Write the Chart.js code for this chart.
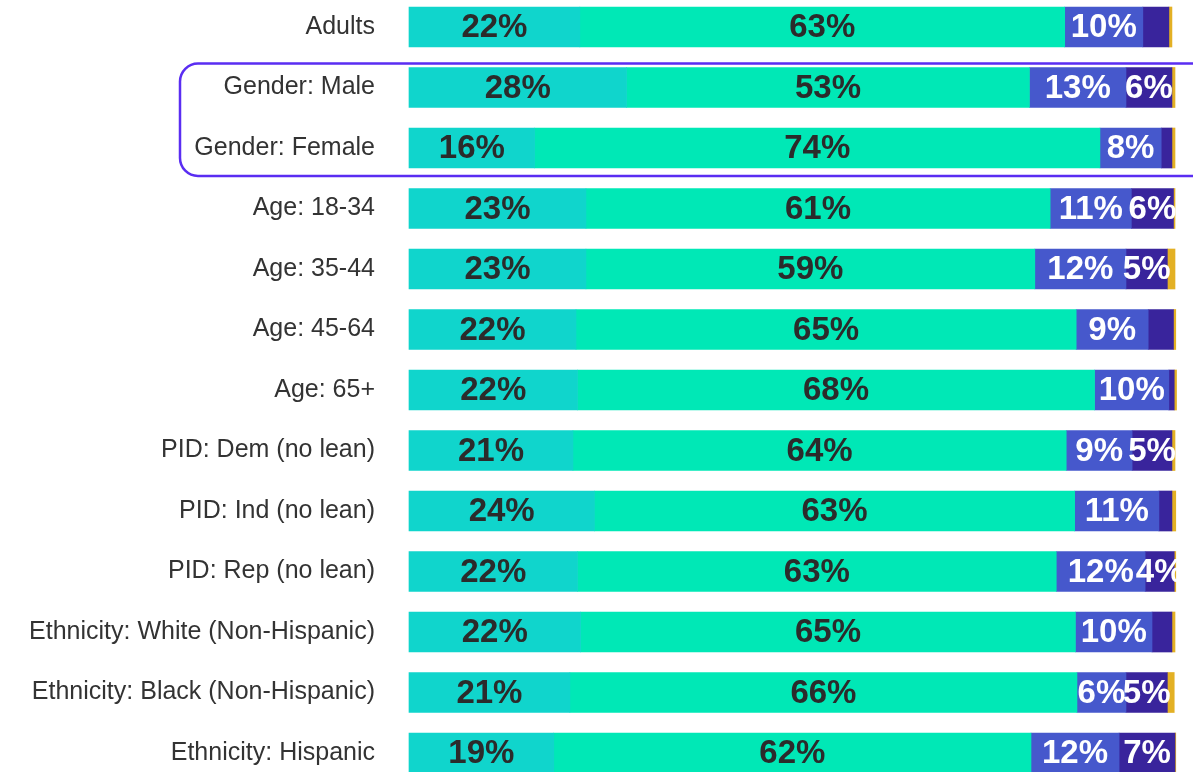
<!DOCTYPE html>
<html>
<head>
<meta charset="utf-8">
<script src="https://cdn.jsdelivr.net/npm/chart.js@4"></script>
<style>
  html, body { margin: 0; padding: 0; background: #ffffff; }
  #wrap { width: 1193px; height: 772px; position: relative; }
</style>
</head>
<body>
<div id="wrap"><canvas id="chart"></canvas></div>
<script>
    // data (percent of each group)
    const groups = [
      "Adults", "Gender: Male", "Gender: Female", "Age: 18-34", "Age: 35-44",
      "Age: 45-64", "Age: 65+", "PID: Dem (no lean)", "PID: Ind (no lean)",
      "PID: Rep (no lean)", "Ethnicity: White (Non-Hispanic)",
      "Ethnicity: Black (Non-Hispanic)", "Ethnicity: Hispanic"
    ];
    const seg1 = [22.3, 28.4, 16.4, 23.1, 23.1, 21.8, 22.0, 21.4, 24.2, 22.0, 22.4, 21.0, 18.9];
    const seg2 = [63.3, 52.6, 73.8, 60.6, 58.6, 65.3, 67.5, 64.4, 62.7, 62.5, 64.6, 66.2, 62.3];
    const seg3 = [10.2, 12.6, 8.0, 10.6, 11.9, 9.4, 9.7, 8.6, 11.0, 11.6, 10.0, 6.4, 11.5];
    const seg4 = [3.4, 6.0, 1.4, 5.5, 5.4, 3.3, 0.7, 5.2, 1.7, 3.8, 2.6, 5.4, 7.3];
    const seg5 = [0.4, 0.4, 0.4, 0.2, 1.0, 0.3, 0.3, 0.4, 0.5, 0.2, 0.4, 0.9, 0.1];
    const highlighted = ["Gender: Male", "Gender: Female"];

    const colors = ["#10d5cc", "#00e8b6", "#4658cc", "#39249c", "#e3b024"];
    const labelColors = ["#2b2b2b", "#2b2b2b", "#ffffff", "#ffffff", "#ffffff"];

    // percent labels in the middle of each segment
    const segLabels = {
      id: "segLabels",
      afterDatasetsDraw(chart) {
        const ctx = chart.ctx;
        ctx.save();
        ctx.font = "bold 33px 'Liberation Sans', Arial, sans-serif";
        ctx.textAlign = "center";
        ctx.textBaseline = "middle";
        chart.data.datasets.forEach((ds, i) => {
          const meta = chart.getDatasetMeta(i);
          meta.data.forEach((bar, j) => {
            const v = Math.round(ds.data[j]);
            if (v < 4) return;
            ctx.fillStyle = labelColors[i];
            ctx.fillText(v + "%", (bar.x + bar.base) / 2, bar.y + 1);
          });
        });
        ctx.restore();
      }
    };

    // rounded box round the gender rows
    const groupBox = {
      id: "groupBox",
      afterDraw(chart) {
        const y = chart.scales.y;
        const a = groups.indexOf(highlighted[0]);
        const b = groups.indexOf(highlighted[highlighted.length - 1]);
        const top = y.getPixelForValue(a) - 24;
        const bottom = y.getPixelForValue(b) + 28;
        const ctx = chart.ctx;
        ctx.save();
        ctx.strokeStyle = "#5a2df2";
        ctx.lineWidth = 2.5;
        ctx.beginPath();
        ctx.roundRect(180, top, 1030, bottom - top, 18);
        ctx.stroke();
        ctx.restore();
      }
    };

    const series = [seg1, seg2, seg3, seg4, seg5];

    new Chart(document.getElementById("chart"), {
      type: "bar",
      data: {
        labels: groups,
        datasets: series.map((d, i) => ({
          data: d,
          backgroundColor: colors[i],
          borderWidth: 0,
          barThickness: 40,
          clip: false
        }))
      },
      options: {
        indexAxis: "y",
        responsive: true,
        maintainAspectRatio: false,
        animation: false,
        layout: { padding: { top: 27, bottom: 19, left: 0, right: 18 } },
        plugins: {
          legend: { display: false },
          tooltip: { enabled: false }
        },
        scales: {
          x: { stacked: true, min: 0, max: 100, display: false },
          y: {
            stacked: true,
            offset: false,
            border: { display: false },
            grid: { display: false, drawTicks: false },
            afterFit(scale) {
              scale.width = 409;
              scale.paddingTop = 0;
              scale.paddingBottom = 0;
            },
            ticks: {
              padding: 34,
              color: "#333333",
              font: { family: "'Liberation Sans', Arial, sans-serif", size: 25 }
            }
          }
        }
      },
      plugins: [segLabels, groupBox]
    });
</script>
</body>
</html>
